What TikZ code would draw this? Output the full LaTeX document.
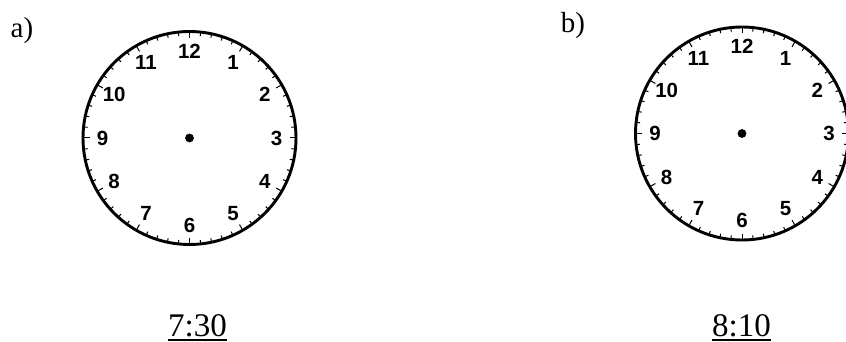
\documentclass[tikz,border=0pt]{standalone}
\usepackage{fontspec}
\newfontfamily\numfont{Liberation Sans}[BoldFont={Liberation Sans Bold}]
\newfontfamily\labfont{Liberation Serif}
\begin{document}
\begin{tikzpicture}[x=1pt,y=-1pt,
  rim/.style={line width=2.9pt},
  tick/.style={line width=1pt},
  hournum/.style={font=\numfont\bfseries\fontsize{20.5}{21}\selectfont, inner sep=0pt},
  partlabel/.style={font=\labfont\fontsize{29}{32}\selectfont, inner sep=0pt},
  timelabel/.style={font=\labfont\fontsize{33}{36}\selectfont, inner sep=0pt, anchor=base},
  uline/.style={line width=1.5pt},
  clockface/.pic={
    \draw[rim] (0,0) circle[radius=106.5];
    \foreach \i in {0,...,59}{
      \pgfmathsetmacro{\ang}{90-6*\i}
      \pgfmathsetmacro{\len}{ifthenelse(mod(\i,5)==0,6.5,4)}
      \draw[tick] (\ang:106.5) -- (\ang:106.5-\len);
    }
    \foreach \k in {1,...,12}{
      \node[hournum] (-n\k) at ({30*\k-90}:87) {\k};
    }
    \fill (0,0) circle[radius=4.4];
  }
]
\useasboundingbox (0,0) rectangle (846,342);
\begin{scope}
\clip (0,0) rectangle (846,342);
\pic (ca) at (189.5,138) {clockface};
\pic (cb) at (742,133.5) {clockface};
\end{scope}
\node[partlabel] (la) at (22,31) {a)};
\node[partlabel] (lb) at (573,26) {b)};
\node[timelabel] (ta) at (197.5,336) {7:30};
\node[timelabel] (tb) at (741.5,336) {8:10};
\draw[uline] ([yshift=-4pt]ta.base west) -- ([yshift=-4pt]ta.base east);
\draw[uline] ([yshift=-4pt]tb.base west) -- ([yshift=-4pt]tb.base east);
\end{tikzpicture}
\end{document}
